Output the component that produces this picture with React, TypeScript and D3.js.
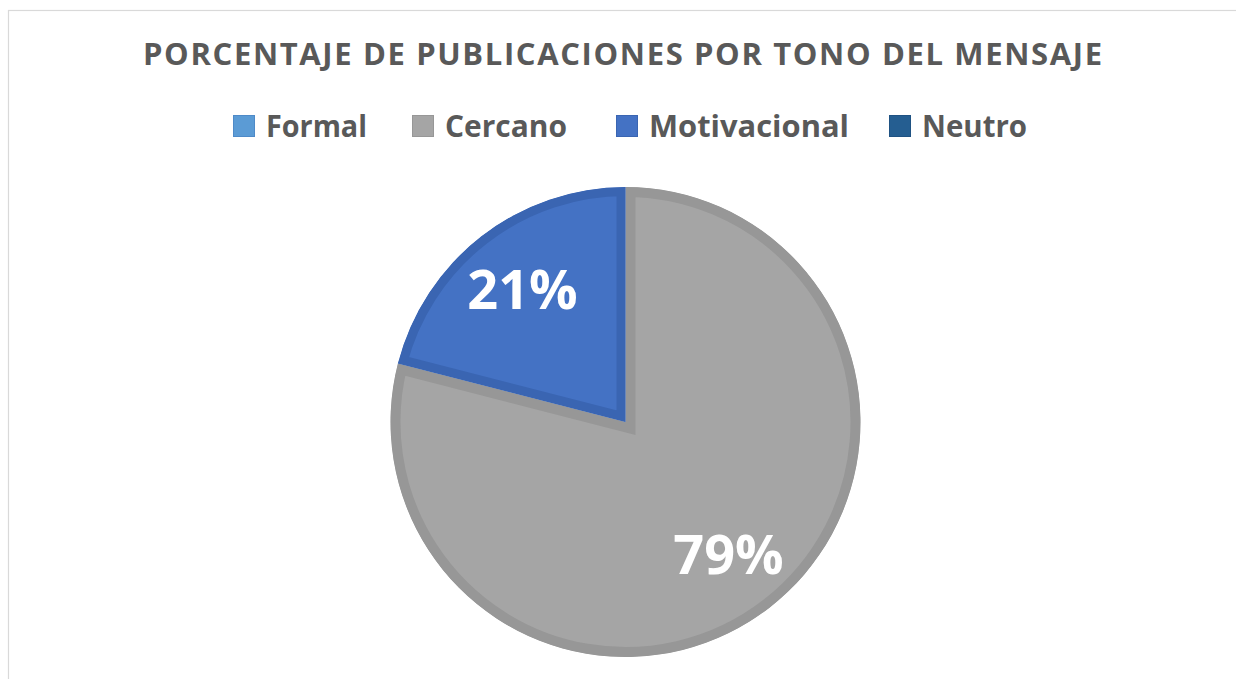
import React from "react";
import * as d3 from "d3";

const categories = ["Formal", "Cercano", "Motivacional", "Neutro"];
const values = [0, 79, 21, 0];
const fills = ["#5b9bd5", "#a5a5a5", "#4472c4", "#255e91"];
const strokes = ["#4e8ac8", "#979797", "#3a65b2", "#1f5283"];
const titleText = "PORCENTAJE DE PUBLICACIONES POR TONO DEL MENSAJE";

const W = 1236;
const H = 679;
const cx = 625.5;
const cy = 422;
const R = 235;
const bands = [9, 10, 9, 9];
// legend layout (square left x, text width)
const legendX = [233, 412, 616, 889];
const legendTextW = [101, 122, 200, 105];

export default function App() {
  const total = d3.sum(values);
  const pie = d3
    .pie<number>()
    .sort(null)
    .value((d) => d)
    .startAngle(0)
    .endAngle(2 * Math.PI);
  const arcs = pie(values);
  const arcGen = d3.arc<d3.PieArcDatum<number>>().innerRadius(0).outerRadius(R);
  const labelArc = d3
    .arc<d3.PieArcDatum<number>>()
    .innerRadius(R * 0.715)
    .outerRadius(R * 0.715);

  return (
    <div style={{ position: "fixed", left: 0, top: 0, width: W, height: H, background: "#fff" }}>
      <svg width={W} height={H} style={{ display: "block" }}>
        <rect x={8.5} y={10.5} width={1260} height={720} fill="#fff" stroke="#d9d9d9" strokeWidth={1.2} />
        <text
          x={143}
          y={65}
          textLength={959}
          lengthAdjust="spacing"
          fontFamily="'Open Sans', sans-serif"
          fontWeight={700}
          fontSize={31}
          fill="#595959"
        >
          {titleText}
        </text>
        {categories.map((c, i) => (
          <g key={c}>
            <rect x={legendX[i] + 0.5} y={115.5} width={21} height={21} fill={fills[i]} stroke={strokes[i]} strokeWidth={1} />
            <text
              x={legendX[i] + 33}
              y={137}
              textLength={legendTextW[i]}
              lengthAdjust="spacingAndGlyphs"
              fontFamily="'Open Sans', sans-serif"
              fontWeight={700}
              fontSize={31}
              fill="#595959"
            >
              {c}
            </text>
          </g>
        ))}
        <defs>
          {arcs.map((a, i) => (
            <clipPath id={`clip-${i}`} key={i}>
              <path d={arcGen(a) || ""} transform={`translate(${cx},${cy})`} />
            </clipPath>
          ))}
        </defs>
        {arcs.map((a, i) =>
          a.value > 0 ? (
            <g key={i} clipPath={`url(#clip-${i})`}>
              <path
                d={arcGen(a) || ""}
                transform={`translate(${cx},${cy})`}
                fill={fills[i]}
                stroke={strokes[i]}
                strokeWidth={bands[i] * 2}
                strokeLinejoin="miter"
              />
            </g>
          ) : null
        )}
        {arcs.map((a, i) => {
          if (a.value <= 0) return null;
          const [lx, ly] = labelArc.centroid(a);
          return (
            <text
              key={i}
              x={cx + lx}
              y={cy + ly}
              dy="0.36em"
              textAnchor="middle"
              fontFamily="'Open Sans', sans-serif"
              fontWeight={700}
              fontSize={54}
              fill="#ffffff"
            >
              {`${Math.round((a.value / total) * 100)}%`}
            </text>
          );
        })}
      </svg>
    </div>
  );
}
